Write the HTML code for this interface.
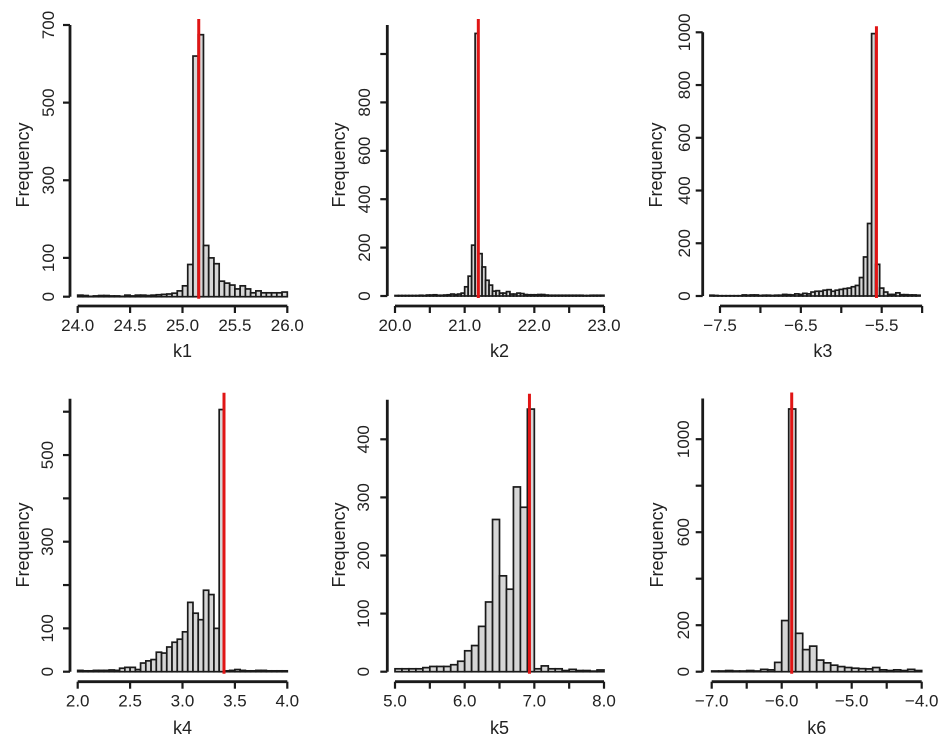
<!DOCTYPE html>
<html><head><meta charset="utf-8"><style>
html,body{margin:0;padding:0;background:#fff;}
svg{display:block;font-family:"Liberation Sans",sans-serif;}
</style></head><body>
<svg id="chart" width="950" height="750" viewBox="0 0 950 750"></svg>
<script>
// ---- data ----
const k1Start = 24.0, k1Width = 0.05;
const k1Counts = [4,3,1,2,3,3,2,2,1,4, 2,4,4,3,4,5,6,7,9,15, 28,83,620,675,132,100,85,40,35,30,20,28,20,10,15,10,10,10,10,12];
const k1Ticks = [24.0,24.5,25.0,25.5,26.0];
const k1TickLabels = ["24.0","24.5","25.0","25.5","26.0"];
const k1YTicks = [0,100,300,500,700];
const k1Truth = 25.155;

const k2Start = 20.0, k2Width = 0.05;
const k2Counts = [2,2,2,2,2,2,2,3,2,4,4,5,3,3,4,5,8,6,8,12, 38,82,210,1085,175,120,65,45,20,22,12,12,18,8,8,12,10,6,5,5, 5,6,6,4,3,3,3,3,3,3,3,3,3,3,2,2,3,3,3,3];
const k2Ticks = [20.0,20.5,21.0,21.5,22.0,22.5,23.0];
const k2TickLabels = ["20.0","","21.0","","22.0","","23.0"];
const k2YTicks = [0,200,400,600,800,1000];
const k2YTickLabels = ["0","200","400","600","800",""];
const k2Truth = 21.196;

const k3Start = -7.625, k3Width = 0.05;
const k3Counts = [3,2,1,1,1,1,1,1,4,3,4,4,2,3,3,2,3,3,6,5,4,8,6, 10,8,15,18,18,22,24,18,22,25,28,30,35,40, 70,148,275,995, 120,30,15,6,6,12,5,5,4,4,3];
const k3Ticks = [-7.5,-7.0,-6.5,-6.0,-5.5,-5.0];
const k3TickLabels = ["\u22127.5","","\u22126.5","","\u22125.5",""];
const k3YTicks = [0,200,400,600,800,1000];
const k3Truth = -5.565;

const k4Start = 2.0, k4Width = 0.05;
const k4Counts = [3,2,2,3,3,3,4,3, 8,10,10,5, 20,25,28,45,43,57,68,75,92,160,135,120,188,178,100,605, 2,3,5,3, 2,2,3,3,2,2,2,2];
const k4Ticks = [2.0,2.5,3.0,3.5,4.0];
const k4TickLabels = ["2.0","2.5","3.0","3.5","4.0"];
const k4YTicks = [0,100,200,300,400,500,600];
const k4YTickLabels = ["0","100","","300","","500",""];
const k4Truth = 3.396;

const k5Start = 5.0, k5Width = 0.1;
const k5Counts = [5,5,5,5,7,9,9,9,12,18,36,45,78,120,262,165,142,318,283,452,5,10,5,5,2,4,2,2,1,3];
const k5Ticks = [5.0,5.5,6.0,6.5,7.0,7.5,8.0];
const k5TickLabels = ["5.0","","6.0","","7.0","","8.0"];
const k5YTicks = [0,100,200,300,400];
const k5Truth = 6.93;

const k6Start = -7.0, k6Width = 0.1;
const k6Counts = [3,3,5,3,3,5,3,10,8,40,220,1130,165,95,110,50,38,28,22,18,15,13,12,18,8,5,8,5,10,5];
const k6Ticks = [-7.0,-6.5,-6.0,-5.5,-5.0,-4.5,-4.0];
const k6TickLabels = ["\u22127.0","","\u22126.0","","\u22125.0","","\u22124.0"];
const k6YTicks = [0,200,400,600,800,1000];
const k6YTickLabels = ["0","200","","600","","1000"];
const k6Truth = -5.857;

const NS = "http://www.w3.org/2000/svg";
const svg = document.getElementById('chart');
function mk(tag, attrs, parent){
  const e = document.createElementNS(NS, tag);
  for (const k in attrs) e.setAttribute(k, attrs[k]);
  (parent||svg).appendChild(e);
  return e;
}

const panels = [
 {id:'k1', start:k1Start, w:k1Width, counts:k1Counts, ticks:k1Ticks, tl:k1TickLabels, yt:k1YTicks, ytl:null, truth:k1Truth,
  x0:24.0, x1:26.0, px0:77.7, px1:287.3, axisX:70, y0px:296.7, yUnit:(296.7-25)/700, yTop:700, axisY:306, tlX:48, flX:22, flY:165, xlY:357},
 {id:'k2', start:k2Start, w:k2Width, counts:k2Counts, ticks:k2Ticks, tl:k2TickLabels, yt:k2YTicks, ytl:k2YTickLabels, truth:k2Truth,
  x0:20.0, x1:23.0, px0:395, px1:604, axisX:387.3, y0px:296, yUnit:48.4/200, yTop:1120, axisY:306, tlX:364, flX:338, flY:165, xlY:357},
 {id:'k3', start:k3Start, w:k3Width, counts:k3Counts, ticks:k3Ticks, tl:k3TickLabels, yt:k3YTicks, ytl:null, truth:k3Truth,
  x0:-7.5, x1:-5.5, px0:720, px1:881.7, axisX:702.7, y0px:296, yUnit:(296-32.3)/1000, yTop:1000, axisY:306, tlX:684, flX:655, flY:165, xlY:357},
 {id:'k4', start:k4Start, w:k4Width, counts:k4Counts, ticks:k4Ticks, tl:k4TickLabels, yt:k4YTicks, ytl:k4YTickLabels, truth:k4Truth,
  x0:2.0, x1:4.0, px0:77.7, px1:287.3, axisX:70, y0px:671.7, yUnit:43.33/100, yTop:630, axisY:681.7, tlX:47, flX:22, flY:545, xlY:734},
 {id:'k5', start:k5Start, w:k5Width, counts:k5Counts, ticks:k5Ticks, tl:k5TickLabels, yt:k5YTicks, ytl:null, truth:k5Truth,
  x0:5.0, x1:8.0, px0:395, px1:604, axisX:387.3, y0px:671.7, yUnit:58.1/100, yTop:468, axisY:681.7, tlX:363, flX:338, flY:545, xlY:734},
 {id:'k6', start:k6Start, w:k6Width, counts:k6Counts, ticks:k6Ticks, tl:k6TickLabels, yt:k6YTicks, ytl:k6YTickLabels, truth:k6Truth,
  x0:-7.0, x1:-4.0, px0:711.7, px1:921.7, axisX:702.7, y0px:671.7, yUnit:46.5/200, yTop:1175, axisY:681.7, tlX:683, flX:656, flY:545, xlY:734}
];

panels.forEach(p => {
  const g = mk('g', {});
  
  
  const xs = v => p.px0 + (v - p.x0) * (p.px1 - p.px0) / (p.x1 - p.x0);
  const ys = v => p.y0px - v * p.yUnit;
  p.counts.forEach((c, i) => {
    const a = xs(p.start + i * p.w), b = xs(p.start + (i + 1) * p.w);
    const r = mk('rect', {x:a, y:ys(c), width:b - a, height:Math.max(0.01, ys(0) - ys(c)), fill:'#d6d6d6', stroke:'#1a1a1a', 'stroke-width':1.7}, g);
    
    
  });
  const xa = mk('line', {x1:xs(p.ticks[0]), x2:xs(p.ticks[p.ticks.length-1]), y1:p.axisY, y2:p.axisY, stroke:'#1a1a1a', 'stroke-width':2.8}, g);
  
  
  p.ticks.forEach((t, i) => {
    mk('line', {x1:xs(t), x2:xs(t), y1:p.axisY, y2:p.axisY + 7, stroke:'#1a1a1a', 'stroke-width':2.2}, g);
    if (p.tl[i]) {
      const tx = mk('text', {x:xs(t), y:p.axisY + 25, 'text-anchor':'middle', 'font-size':17, fill:'#222'}, g);
      tx.textContent = p.tl[i];
      
      
    }
  });
  const ya = mk('line', {x1:p.axisX, x2:p.axisX, y1:ys(0), y2:ys(p.yTop), stroke:'#1a1a1a', 'stroke-width':2.8}, g);
  
  
  p.yt.forEach((t, i) => {
    mk('line', {x1:p.axisX - 7, x2:p.axisX, y1:ys(t), y2:ys(t), stroke:'#1a1a1a', 'stroke-width':2.2}, g);
    const lab = p.ytl ? p.ytl[i] : String(t);
    if (lab) {
      const tx = mk('text', {x:0, y:0, transform:`translate(${p.tlX + 6},${ys(t)}) rotate(-90)`, 'text-anchor':'middle', 'font-size':17, fill:'#222'}, g);
      tx.textContent = lab;
      
      
    }
  });
  const tl = mk('line', {x1:xs(p.truth), x2:xs(p.truth), y1:ys(0) + 2, y2:ys(p.yTop) - 6, stroke:'#e01515', 'stroke-width':3}, g);
  
  
  const fl = mk('text', {x:0, y:0, transform:`translate(${p.flX + 7},${p.flY}) rotate(-90)`, 'text-anchor':'middle', 'font-size':18, fill:'#222'}, g);
  fl.textContent = 'Frequency';
  
  
  const xl = mk('text', {x:(p.px0 + p.px1) / 2 + (p.id==='k3'?22:0), y:p.xlY, 'text-anchor':'middle', 'font-size':18, fill:'#222'}, g);
  xl.textContent = p.id;
  
  
});
</script>
</body></html>
